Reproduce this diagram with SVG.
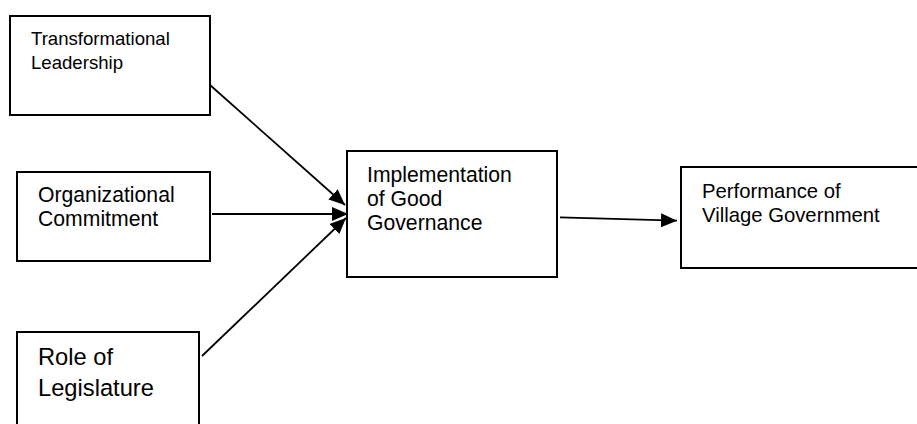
<svg xmlns="http://www.w3.org/2000/svg" width="917" height="424" viewBox="0 0 917 424">
  <defs>
    <marker id="arrow" markerUnits="userSpaceOnUse" markerWidth="16" markerHeight="14" refX="16" refY="7" orient="auto">
      <path d="M0,0 L16,7 L0,14 z" fill="#000"/>
    </marker>
    <style>
      .box { fill: #fff; stroke: #000; stroke-width: 2; }
      .lbl { font-family: "Liberation Sans", Arial, sans-serif; fill: #000; }
      .conn { stroke: #000; stroke-width: 1.8; fill: none; marker-end: url(#arrow); }
    </style>
  </defs>
  <rect width="917" height="424" fill="#fff"/>

  <g id="node-transformational-leadership">
    <rect class="box" x="10" y="16" width="200" height="99"/>
    <text class="lbl" font-size="18.6" x="31" y="45">Transformational</text>
    <text class="lbl" font-size="18.6" x="31" y="69">Leadership</text>
  </g>

  <g id="node-organizational-commitment">
    <rect class="box" x="17" y="172" width="193" height="89"/>
    <text class="lbl" font-size="21.2" x="38" y="202">Organizational</text>
    <text class="lbl" font-size="21.2" x="38" y="226">Commitment</text>
  </g>

  <g id="node-role-of-legislature">
    <rect class="box" x="17" y="332" width="182" height="110"/>
    <text class="lbl" font-size="23.7" x="38" y="365">Role of</text>
    <text class="lbl" font-size="23.7" x="38" y="396">Legislature</text>
  </g>

  <g id="node-implementation">
    <rect class="box" x="347" y="151" width="210" height="126"/>
    <text class="lbl" font-size="21.2" x="367" y="182">Implementation</text>
    <text class="lbl" font-size="21.2" x="367" y="206">of Good</text>
    <text class="lbl" font-size="21.2" x="367" y="230">Governance</text>
  </g>

  <g id="node-performance">
    <rect class="box" x="681" y="167" width="250" height="101"/>
    <text class="lbl" font-size="20.3" x="702" y="198">Performance of</text>
    <text class="lbl" font-size="20.3" x="702" y="222">Village Government</text>
  </g>

  <g id="connectors">
    <line class="conn" x1="210" y1="85" x2="345" y2="205"/>
    <line class="conn" x1="212" y1="214" x2="348" y2="214"/>
    <line class="conn" x1="202" y1="356" x2="346" y2="218"/>
    <line class="conn" x1="560" y1="217.3" x2="677" y2="220.7"/>
  </g>
</svg>
